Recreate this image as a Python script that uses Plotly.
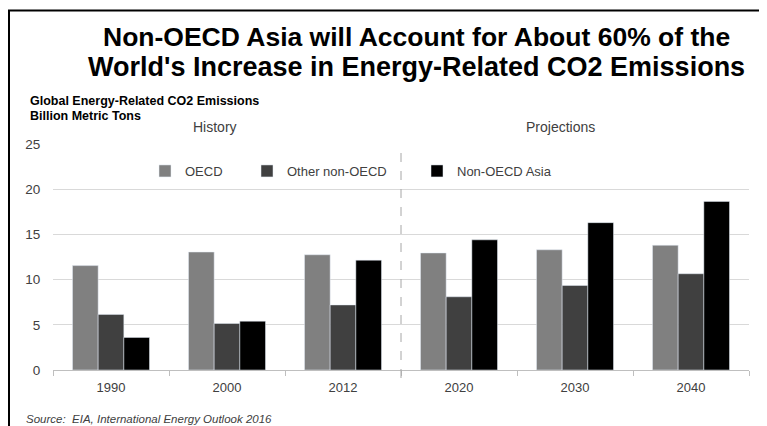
import plotly.graph_objects as go

years = ["1990", "2000", "2012", "2020", "2030", "2040"]
oecd = [11.55, 13.05, 12.75, 12.95, 13.3, 13.8]
other_non_oecd = [6.15, 5.15, 7.2, 8.1, 9.35, 10.65]
non_oecd_asia = [3.6, 5.4, 12.15, 14.4, 16.3, 18.65]

FONT = "Liberation Sans, Arial, sans-serif"

fig = go.Figure()
fig.add_trace(go.Bar(name="OECD", x=years, y=oecd, marker_color="#808080", legend="legend"))
fig.add_trace(go.Bar(name="Other non-OECD", x=years, y=other_non_oecd, marker_color="#404040", legend="legend2"))
fig.add_trace(go.Bar(name="Non-OECD Asia", x=years, y=non_oecd_asia, marker_color="#000000", legend="legend3"))

# page is rendered with an 8px body margin; work in page pixels and convert
OFF = 8
W, H = 767 - OFF, 426 - OFF
L, R, T, B = 45, 18, 136, 56
pw, ph = W - L - R, H - T - B

def px(xp):
    return (xp - OFF - L) / pw

def py(yp):
    return (H - B - (yp - OFF)) / ph

leg_common = dict(orientation="h", bgcolor="rgba(0,0,0,0)", font=dict(family=FONT, size=13, color="#404040"),
                  itemwidth=30, xanchor="left", yanchor="middle", y=py(171))

fig.update_layout(
    width=W, height=H,
    margin=dict(l=L, r=R, t=T, b=B),
    paper_bgcolor="white", plot_bgcolor="white",
    barmode="group", bargap=0.336, bargroupgap=0,
    font=dict(family=FONT, color="#404040"),
    legend=dict(x=px(145), **leg_common),
    legend2=dict(x=px(247), **leg_common),
    legend3=dict(x=px(417), **leg_common),
    xaxis=dict(type="category", tickson="boundaries", ticks="outside", ticklen=5, tickcolor="#bfbfbf",
               showline=True, linecolor="#bfbfbf", linewidth=1, showgrid=False, ticklabelstandoff=5,
               tickfont=dict(family=FONT, size=13, color="#404040")),
    yaxis=dict(range=[0, 25], dtick=5, showgrid=True, gridcolor="#d9d9d9", gridwidth=1,
               zeroline=False, showline=False, ticks="outside", ticklen=9, tickcolor="rgba(0,0,0,0)",
               tickfont=dict(family=FONT, size=13.5, color="#404040")),
    showlegend=True,
)

shapes = [
    dict(type="line", xref="x", yref="paper", x0=2.5, x1=2.5, y0=py(378), y1=1,
         line=dict(color="#a6a6a6", width=1, dash="dash")),
    dict(type="line", xref="paper", yref="paper", x0=px(8), x1=px(767), y0=py(10.5), y1=py(10.5),
         line=dict(color="#000000", width=2)),
    dict(type="line", xref="paper", yref="paper", x0=px(9), x1=px(9), y0=py(10), y1=py(430),
         line=dict(color="#000000", width=2)),
]
fig.update_layout(shapes=shapes)

annotations = [
    dict(text="<b>Non-OECD Asia will Account for About 60% of the</b>", x=px(416), y=py(37),
         xanchor="center", yanchor="middle", font=dict(family=FONT, size=26.5, color="#000000")),
    dict(text="<b>World's Increase in Energy-Related CO2 Emissions</b>", x=px(416), y=py(67),
         xanchor="center", yanchor="middle", font=dict(family=FONT, size=27, color="#000000")),
    dict(text="<b>Global Energy-Related CO2 Emissions</b>", x=px(28), y=py(101), xanchor="left", yanchor="middle",
         font=dict(family=FONT, size=12.5, color="#000000")),
    dict(text="<b>Billion Metric Tons</b>", x=px(28), y=py(116), xanchor="left", yanchor="middle",
         font=dict(family=FONT, size=12.5, color="#000000")),
    dict(text="History", x=px(215), y=py(127), xanchor="center", yanchor="middle",
         font=dict(family=FONT, size=14, color="#404040")),
    dict(text="Projections", x=px(560), y=py(127), xanchor="center", yanchor="middle",
         font=dict(family=FONT, size=14, color="#404040")),
    dict(text="<i>Source:  EIA, International Energy Outlook 2016</i>", x=px(24), y=py(419), xanchor="left",
         yanchor="middle", font=dict(family=FONT, size=11.5, color="#404040")),
]
for a in annotations:
    a.update(xref="paper", yref="paper", showarrow=False)
fig.update_layout(annotations=annotations)

fig.write_html("out.html")
